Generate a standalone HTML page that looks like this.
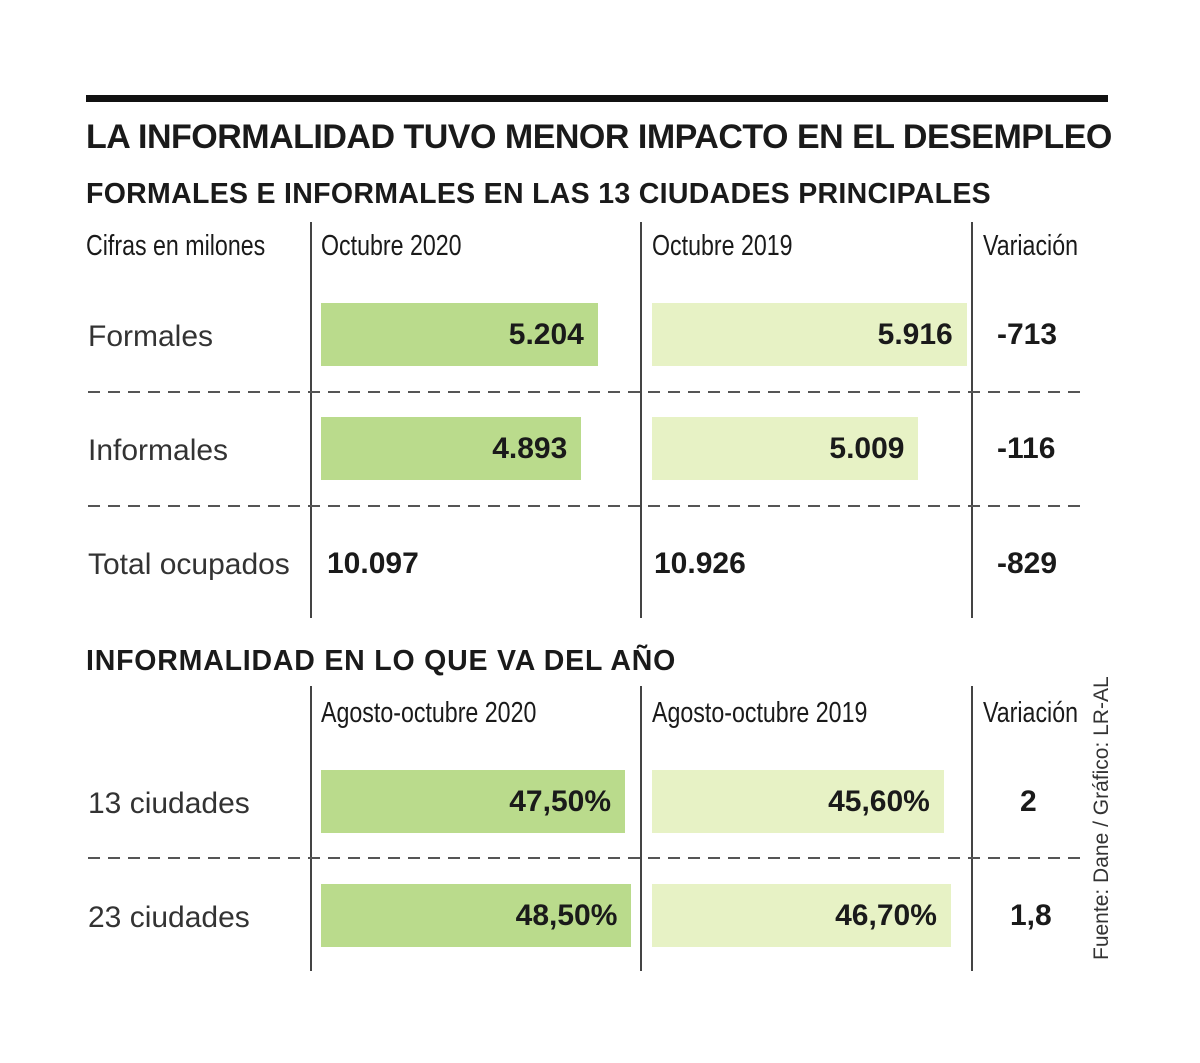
<!DOCTYPE html>
<html><head><meta charset="utf-8">
<style>
body{margin:0;background:#fff;}
#c{position:relative;width:1200px;height:1063px;overflow:hidden;font-family:"Liberation Sans",sans-serif;color:#1a1a1a;}
.a{position:absolute;white-space:nowrap;}
.t{font-weight:bold;font-size:34px;letter-spacing:-0.5px;}
.s{font-weight:bold;font-size:28.5px;letter-spacing:0.3px;}
.h{font-family:"Liberation Sans Narrow","Liberation Sans",sans-serif;font-size:29px;transform-origin:left top;transform:scaleX(0.8);}
.l{font-size:30px;color:#333;}
.v{font-weight:bold;font-size:30px;}
.vl{position:absolute;width:1.5px;background:#444;}
.dl{position:absolute;height:1.5px;background:repeating-linear-gradient(to right,#555 0 12px,transparent 12px 20px);}
</style></head><body>
<div id="c">
<div class="a" style="left:86px;top:95px;width:1022px;height:7px;background:#111"></div>
<div class="a t" style="left:86px;top:118px">LA INFORMALIDAD TUVO MENOR IMPACTO EN EL DESEMPLEO</div>
<div class="a s" style="left:86px;top:178px">FORMALES E INFORMALES EN LAS 13 CIUDADES PRINCIPALES</div>
<div class="a h" style="left:86px;top:230px">Cifras en milones</div>
<div class="a h" style="left:321px;top:230px">Octubre 2020</div>
<div class="a h" style="left:652px;top:230px">Octubre 2019</div>
<div class="a h" style="left:983px;top:230px">Variación</div>
<div class="a s" style="left:86px;top:645px;letter-spacing:0.8px">INFORMALIDAD EN LO QUE VA DEL AÑO</div>
<div class="a h" style="left:321px;top:697px">Agosto-octubre 2020</div>
<div class="a h" style="left:652px;top:697px">Agosto-octubre 2019</div>
<div class="a h" style="left:983px;top:697px">Variación</div>
<div class="a" style="left:1090px;top:960px;font-size:21px;color:#333;transform-origin:left top;transform:rotate(-90deg)">Fuente: Dane / Gráfico: LR-AL</div>
</div>
<script>
const cats1=["Formales","Informales"];
const v2020=[5.204,4.893];
const v2019=[5.916,5.009];
const var1=["-713","-116"];
const totals=["10.097","10.926","-829"];
const cats2=["13 ciudades","23 ciudades"];
const p2020=[47.5,48.5];
const p2019=[45.6,46.7];
const var2=["2","1,8"];
const c=document.getElementById('c');
function add(cls,style,text,name){const e=document.createElement('div');e.className=cls;e.setAttribute('style',style);if(text!==null)e.textContent=text;


c.appendChild(e);return e;}
const sc1=v=>v*53.2, sc2=v=>v*6.4;
const fmt1=v=>v.toFixed(3);
const fmt2=v=>v.toFixed(2).replace('.',',')+'%';
function bar(x,y,w,col,txt,name){add('a','left:'+x+'px;top:'+y+'px;width:'+w+'px;height:63px;background:'+col,null,name);
add('a v','left:'+x+'px;top:'+(y+15)+'px;width:'+(w-14)+'px;text-align:right',txt,name+'-label');}
[310,640,971].forEach((x,i)=>{add('vl','left:'+x+'px;top:222px;height:396px',null,'column-divider');add('vl','left:'+x+'px;top:686px;height:285px',null,'column-divider');});
cats1.forEach((k,i)=>{const y=303+i*114;
add('a l','left:88px;top:'+(y+17)+'px',k,'row-label');
bar(321,y,sc1(v2020[i]),'#badb8c',fmt1(v2020[i]),'bar-2020');
bar(652,y,sc1(v2019[i]),'#e7f2c5',fmt1(v2019[i]),'bar-2019');
add('a v','left:997px;top:'+(y+15)+'px',var1[i],'variation-value');
add('dl','left:88px;top:'+(y+88)+'px;width:998px',null,'row-separator');});
add('a l','left:88px;top:548px','Total ocupados','row-label');
add('a v','left:327px;top:547px',totals[0],'total-2020');
add('a v','left:654px;top:547px',totals[1],'total-2019');
add('a v','left:997px;top:547px',totals[2],'total-variation');
cats2.forEach((k,i)=>{const y=770+i*114;
add('a l','left:88px;top:'+(y+17)+'px',k,'row-label');
bar(321,y,sc2(p2020[i]),'#badb8c',fmt2(p2020[i]),'bar-2020');
bar(652,y,sc2(p2019[i]),'#e7f2c5',fmt2(p2019[i]),'bar-2019');
add('a v','left:'+(i==0?1020:1010)+'px;top:'+(y+15)+'px',var2[i],'variation-value');
if(i==0)add('dl','left:88px;top:'+(y+87)+'px;width:998px',null,'row-separator');});
</script>
</body></html>
